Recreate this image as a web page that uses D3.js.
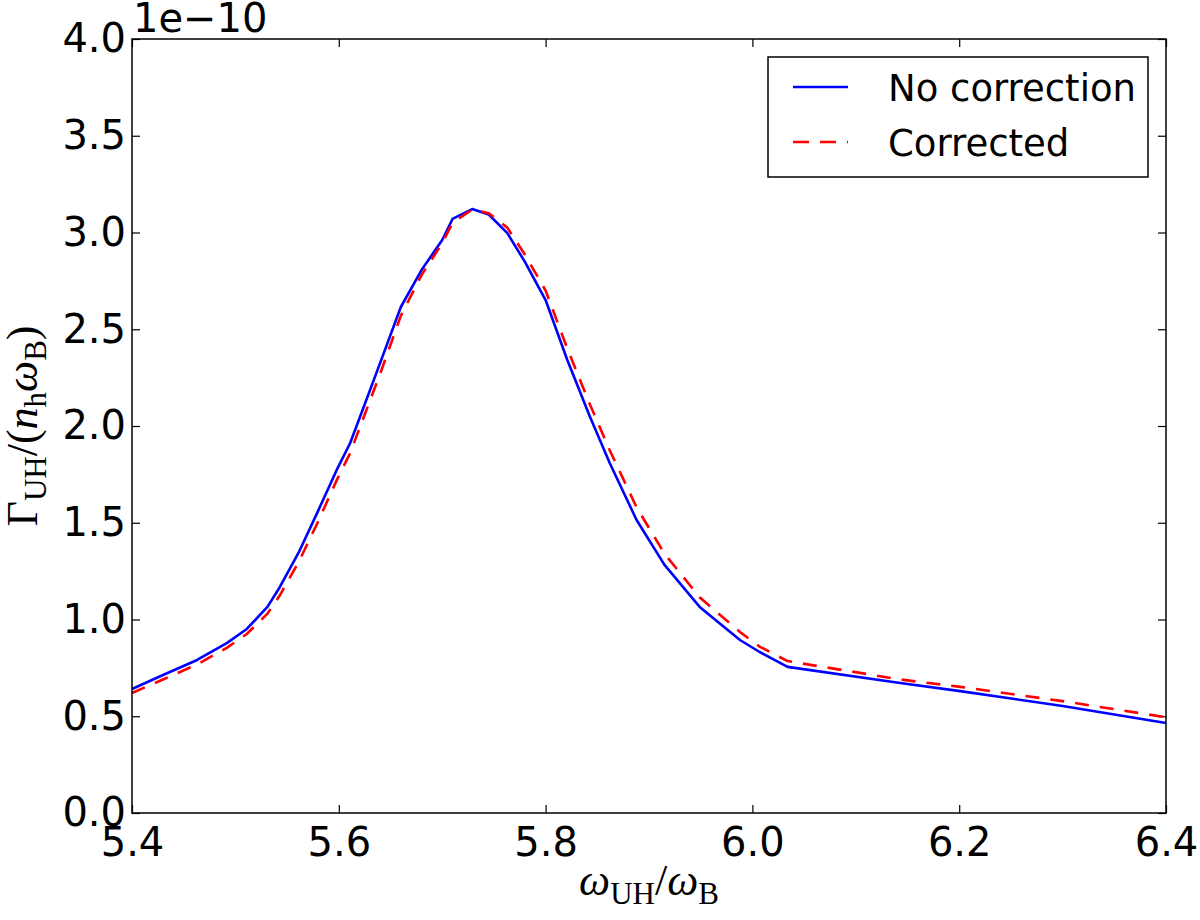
<!DOCTYPE html>
<html>
<head>
<meta charset="utf-8">
<script src="https://cdn.jsdelivr.net/npm/d3@7"></script>
<style>
body { margin: 0; background: #ffffff; }
</style>
</head>
<body>
<div id="chart"></div>
<script>
//////////////////////////////////////////////////////////////////////////////
// Data (y values in units of 1e-10)

var omega = [5.400, 5.430, 5.463, 5.492, 5.511, 5.531, 5.543, 5.561, 5.579,
             5.598, 5.611, 5.623, 5.640, 5.660, 5.680, 5.700, 5.710, 5.729,
             5.745, 5.763, 5.780, 5.800, 5.821, 5.843, 5.862, 5.888, 5.915,
             5.949, 5.988, 6.007, 6.034, 6.143, 6.201, 6.300, 6.400];

var noCorrection = [0.641, 0.713, 0.791, 0.879, 0.951, 1.065, 1.168, 1.344, 1.550,
                    1.773, 1.912, 2.083, 2.326, 2.615, 2.806, 2.961, 3.070, 3.121,
                    3.093, 2.997, 2.848, 2.651, 2.341, 2.047, 1.809, 1.514, 1.282,
                    1.065, 0.894, 0.832, 0.755, 0.672, 0.630, 0.553, 0.465];

var corrected = [0.620, 0.690, 0.768, 0.855, 0.925, 1.030, 1.125, 1.295, 1.495,
                 1.720, 1.860, 2.030, 2.270, 2.570, 2.780, 2.945, 3.050, 3.118,
                 3.100, 3.025, 2.885, 2.700, 2.400, 2.110, 1.875, 1.580, 1.340,
                 1.115, 0.935, 0.860, 0.785, 0.690, 0.652, 0.578, 0.495];

var xTicks = [5.4, 5.6, 5.8, 6.0, 6.2, 6.4];
var yTicks = [0.0, 0.5, 1.0, 1.5, 2.0, 2.5, 3.0, 3.5, 4.0];
var seriesNames = ["No correction", "Corrected"];
var offsetText = "1e\u221210";

//////////////////////////////////////////////////////////////////////////////
// Scales, svg

var svgW = 1200, svgH = 920;
var plotL = 132, plotR = 1166, plotT = 39, plotB = 813;
var tickFont = "'DejaVu Sans', sans-serif";
var mathFont = "'Liberation Serif', 'DejaVu Serif', serif";

var xScale = d3.scaleLinear().domain([5.4, 6.4]).range([plotL, plotR]);
var yScale = d3.scaleLinear().domain([0, 4]).range([plotB, plotT]);

var svg = d3.select("#chart")
    .append("svg")
    .attr("width", svgW)
    .attr("height", svgH)
    .style("background", "#ffffff");

function styleAxis(g) {
    g.select(".domain").remove();
    g.selectAll(".tick line").attr("stroke", "#000").attr("stroke-width", 1.2);
    g.selectAll(".tick text")
        .attr("fill", "#000")
        .style("font-family", tickFont)
        .style("font-size", "40px");
}

// ticks point into the plot on all four sides
svg.append("g")
    .attr("transform", "translate(0," + plotB + ")")
    .call(d3.axisBottom(xScale).tickValues(xTicks).tickFormat(d3.format(".1f"))
          .tickSizeInner(-8).tickSizeOuter(0).tickPadding(15))
    .call(styleAxis);

svg.append("g")
    .attr("transform", "translate(0," + plotT + ")")
    .call(d3.axisTop(xScale).tickValues(xTicks).tickFormat("")
          .tickSizeInner(-8).tickSizeOuter(0))
    .call(styleAxis);

svg.append("g")
    .attr("transform", "translate(" + plotL + ",0)")
    .call(d3.axisLeft(yScale).tickValues(yTicks).tickFormat(d3.format(".1f"))
          .tickSizeInner(-8).tickSizeOuter(0).tickPadding(6))
    .call(styleAxis);

svg.append("g")
    .attr("transform", "translate(" + plotR + ",0)")
    .call(d3.axisRight(yScale).tickValues(yTicks).tickFormat("")
          .tickSizeInner(-8).tickSizeOuter(0))
    .call(styleAxis);

//////////////////////////////////////////////////////////////////////////////
// Curves

var line = d3.line()
    .x(function(d) { return xScale(d[0]); })
    .y(function(d) { return yScale(d[1]); });

svg.append("path")
    .datum(d3.zip(omega, noCorrection))
    .attr("d", line)
    .attr("fill", "none")
    .attr("stroke", "#0000ff")
    .attr("stroke-width", 2.6)
    .attr("stroke-linejoin", "round");

svg.append("path")
    .datum(d3.zip(omega, corrected))
    .attr("d", line)
    .attr("fill", "none")
    .attr("stroke", "#ff0000")
    .attr("stroke-width", 2.6)
    .attr("stroke-dasharray", "14,11");

// frame
svg.append("rect")
    .attr("x", plotL)
    .attr("y", plotT)
    .attr("width", plotR - plotL)
    .attr("height", plotB - plotT)
    .attr("fill", "none")
    .attr("stroke", "#000")
    .attr("stroke-width", 1.5);

// offset text above the y axis
svg.append("text")
    .attr("x", plotL + 1)
    .attr("y", 32)
    .style("font-family", tickFont)
    .style("font-size", "40px")
    .text(offsetText);

//////////////////////////////////////////////////////////////////////////////
// Legend

var legend = svg.append("g");

legend.append("rect")
    .attr("x", 768).attr("y", 57)
    .attr("width", 380).attr("height", 120)
    .attr("fill", "#fff")
    .attr("stroke", "#000")
    .attr("stroke-width", 1.5);

var legendRows = [
    {name: seriesNames[0], color: "#0000ff", dash: null, y: 87},
    {name: seriesNames[1], color: "#ff0000", dash: "16,11", y: 142}
];

legendRows.forEach(function(r) {
    legend.append("line")
        .attr("x1", 793).attr("x2", 848)
        .attr("y1", r.y).attr("y2", r.y)
        .attr("stroke", r.color)
        .attr("stroke-width", 2.6)
        .attr("stroke-dasharray", r.dash);
    legend.append("text")
        .attr("x", 888)
        .attr("y", r.y + 14)
        .style("font-family", tickFont)
        .style("font-size", "37px")
        .text(r.name);
});

//////////////////////////////////////////////////////////////////////////////
// Axis labels (math style)

function mathLabel(sel, parts) {
    parts.forEach(function(p) {
        var t = sel.append("tspan").text(p.t);
        if (p.it) t.style("font-style", "italic");
        if (p.sub) t.attr("dy", 9).style("font-size", "31px");
        if (p.up) t.attr("dy", -9);
    });
}

var xLabel = svg.append("text")
    .attr("x", (plotL + plotR) / 2)
    .attr("y", 895)
    .attr("text-anchor", "middle")
    .style("font-family", mathFont)
    .style("font-size", "44px");

mathLabel(xLabel, [
    {t: "\u03c9", it: true},
    {t: "UH", sub: true},
    {t: "/", up: true},
    {t: "\u03c9", it: true},
    {t: "B", sub: true}
]);

var yLabel = svg.append("text")
    .attr("transform", "translate(37," + ((plotT + plotB) / 2) + ") rotate(-90)")
    .attr("text-anchor", "middle")
    .style("font-family", mathFont)
    .style("font-size", "44px");

mathLabel(yLabel, [
    {t: "\u0393"},
    {t: "UH", sub: true},
    {t: "/(", up: true},
    {t: "n", it: true},
    {t: "h", sub: true},
    {t: "\u03c9", it: true, up: true},
    {t: "B", sub: true},
    {t: ")", up: true}
]);
</script>
</body>
</html>
